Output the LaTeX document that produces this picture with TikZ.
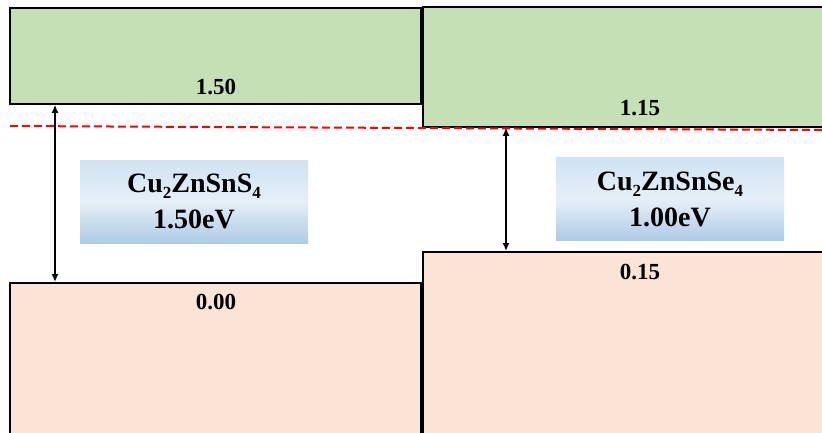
\documentclass[tikz,border=0pt]{standalone}
\usepackage{fontspec}
\setmainfont{Liberation Serif}
\usetikzlibrary{arrows.meta}
\definecolor{cbgreen}{HTML}{C5E0B4}
\definecolor{vborange}{HTML}{FAE4D6}
\definecolor{btop}{HTML}{D0E2F3}
\definecolor{bmid}{HTML}{E6EFF8}
\definecolor{bbot}{HTML}{AECAE6}
\newcommand{\sbs}[1]{\raisebox{-0.22em}{\fontsize{17}{17}\selectfont #1}}
\tikzset{
  band/.style={draw=black, line width=1.8pt, anchor=north west, inner sep=0pt},
  cb/.style={band, fill=cbgreen},
  vb/.style={band, fill=vborange},
  lab/.style={font=\fontsize{23}{23}\selectfont\bfseries, inner sep=0pt},
  gapbox/.style={draw=none, top color=btop, bottom color=bbot, middle color=bmid,
    minimum width=228pt, minimum height=83pt, inner sep=0pt, align=center,
    font=\fontsize{28}{36}\selectfont\bfseries},
  arr/.style={{Latex[length=8pt,width=7pt]}-{Latex[length=8pt,width=7pt]}, line width=1.6pt},
  fermi/.style={draw=red, line width=2pt, dash pattern=on 8pt off 4pt}
}
\begin{document}
\begin{tikzpicture}[x=1pt,y=-1pt]
\clip (0,0) rectangle (822,432);
\fill[white] (0,0) rectangle (822,432);
% bands
\node[cb, minimum width=411pt, minimum height=96pt] (cbL) at (9,7) {};
\node[cb, minimum width=410pt, minimum height=120pt] (cbR) at (422,6) {};
\node[vb, minimum width=411pt, minimum height=160pt] (vbL) at (9,282) {};
\node[vb, minimum width=410pt, minimum height=190pt] (vbR) at (422,251) {};
% labels
\node[lab] (l150) at (216,87) {1.50};
\node[lab] (l115) at (640,108) {1.15};
\node[lab] (l000) at (216,302) {0.00};
\node[lab] (l015) at (640,272) {0.15};
% fermi line
\coordinate (rd1) at (10,126);
\coordinate (rd2) at (822,130);
\draw[fermi] (rd1) -- (rd2);
% arrows
\coordinate (aL) at (55,0);
\coordinate (aR) at (506,0);
\draw[arr] (cbL.south west -| aL) -- (vbL.north west -| aL);
\draw[arr] (cbR.south west -| aR) -- (vbR.north west -| aR);
% gap boxes
\node[gapbox] (gL) at (194,201.5) {Cu\sbs{2}ZnSnS\sbs{4}\\1.50eV};
\node[gapbox] (gR) at (670,199) {Cu\sbs{2}ZnSnSe\sbs{4}\\1.00eV};
\end{tikzpicture}
\end{document}
